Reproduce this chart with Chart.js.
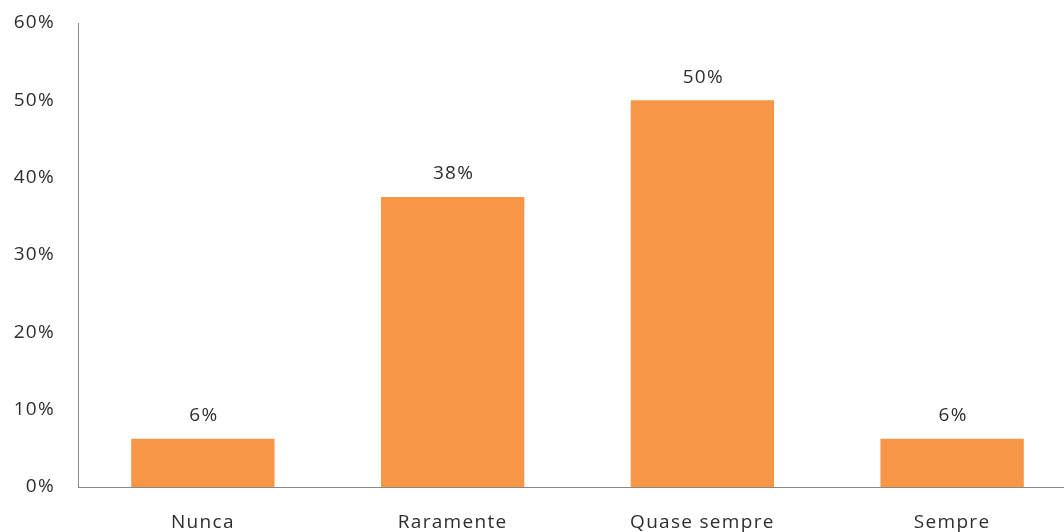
<!DOCTYPE html>
<html>
<head>
<meta charset="utf-8">
<script src="https://cdn.jsdelivr.net/npm/chart.js@4.4.0/dist/chart.umd.min.js"></script>
<style>
html,body{margin:0;padding:0;background:#fff;overflow:hidden;}
#wrap{position:relative;width:1077px;height:532px;}
</style>
</head>
<body>
<div id="wrap"><canvas id="c"></canvas></div>
<script>
const categories = ["Nunca", "Raramente", "Quase sempre", "Sempre"];
const values = [6.25, 37.5, 50, 6.25];
const valueLabels = ["6%", "38%", "50%", "6%"];

const textColor = '#2e2e2e';
const fontFamily = '"Open Sans", "Noto Sans", sans-serif';
const fontSize = 19;

const spacingPlugin = {
  id: 'spacing',
  beforeDraw(chart) { try { chart.ctx.letterSpacing = '1.3px'; } catch (e) {} },
  afterDraw(chart) { try { chart.ctx.letterSpacing = '0px'; } catch (e) {} }
};

const labelPlugin = {
  id: 'valueLabels',
  afterDatasetsDraw(chart) {
    const ctx = chart.ctx;
    const meta = chart.getDatasetMeta(0);
    ctx.save();
    ctx.font = fontSize + 'px ' + fontFamily;
    ctx.fillStyle = textColor;
    ctx.textAlign = 'center';
    ctx.textBaseline = 'middle';
    meta.data.forEach((bar, i) => {
      ctx.fillText(valueLabels[i], bar.x + 1, bar.y - 23);
    });
    ctx.restore();
  }
};

new Chart(document.getElementById('c'), {
  type: 'bar',
  data: {
    labels: categories,
    datasets: [{
      data: values,
      backgroundColor: '#F79646',
      borderWidth: 0,
      barPercentage: 0.574,
      categoryPercentage: 1
    }]
  },
  options: {
    responsive: true,
    maintainAspectRatio: false,
    animation: false,
    devicePixelRatio: 1,
    layout: { padding: { top: 23, left: 0, right: 0, bottom: 0 } },
    plugins: { legend: { display: false }, tooltip: { enabled: false } },
    scales: {
      x: {
        grid: { display: false },
        border: { display: true, color: '#888888', width: 1 },
        ticks: {
          color: textColor,
          font: { size: fontSize, family: fontFamily },
          padding: 16,
          maxRotation: 0
        },
        afterFit(scale) { scale.height = 45; scale.paddingLeft = 0; scale.paddingRight = 0; }
      },
      y: {
        min: 0,
        max: 60,
        grid: { display: false },
        border: { display: true, color: '#888888', width: 1 },
        ticks: {
          stepSize: 10,
          color: textColor,
          font: { size: fontSize, family: fontFamily },
          padding: 15,
          callback: v => v + '%'
        },
        afterFit(scale) { scale.width = 78; scale.paddingTop = 0; scale.paddingBottom = 0; }
      }
    }
  },
  plugins: [spacingPlugin, labelPlugin]
});
</script>
</body>
</html>
